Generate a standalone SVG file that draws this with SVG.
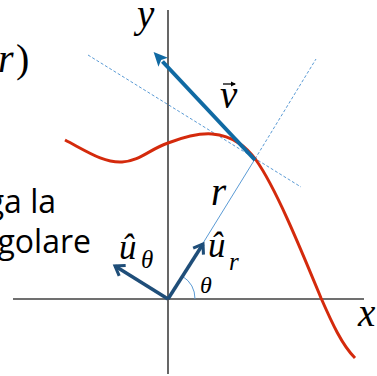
<svg xmlns="http://www.w3.org/2000/svg" width="377" height="376" viewBox="0 0 377 376">
  <style>
    .math { font-family: "Liberation Serif", "Times New Roman", serif; font-style: italic; fill: #000; }
    .up { font-style: normal; }
    .sans { font-family: "Open Sans", "Liberation Sans", sans-serif; fill: #000; font-size: 32px; }
    .axis { stroke: #404040; stroke-width: 1.6; fill: none; }
    .guide { stroke: #5b9bd5; stroke-width: 1; fill: none; }
    .dash { stroke-dasharray: 3 2; }
    .unit { stroke: #1f4e79; stroke-width: 3.5; fill: none; }
    .vel { stroke: #106aa3; stroke-width: 4; fill: none; }
  </style>
  <defs>
    <marker id="tri" markerUnits="userSpaceOnUse" markerWidth="14" markerHeight="14" refX="0" refY="0" viewBox="0 -7 14 14" orient="auto" overflow="visible">
      <path d="M-1,-6.5 L13,0 L-1,6.5 L2,0 z" fill="#106aa3"/>
    </marker>
    <marker id="chev" markerUnits="userSpaceOnUse" markerWidth="14" markerHeight="14" refX="0" refY="0" viewBox="-12 -8 14 16" orient="auto" overflow="visible">
      <path d="M-10,-7 L0,0 L-10,7" fill="none" stroke="#1f4e79" stroke-width="3.5" stroke-linejoin="miter"/>
    </marker>
    <marker id="smallarrow" markerUnits="userSpaceOnUse" markerWidth="6" markerHeight="6" refX="0" refY="0" viewBox="-5 -3 6 6" orient="auto" overflow="visible">
      <path d="M-4,-2.5 L1,0 L-4,2.5 z" fill="#000"/>
    </marker>
  </defs>
  <rect width="377" height="376" fill="#fff"/>

  <g id="axes">
    <line class="axis" x1="13" y1="299" x2="364" y2="299"/>
    <line class="axis" x1="168" y1="10" x2="168" y2="374"/>
  </g>

  <g id="connectors">
    <line class="guide dash" x1="88" y1="55" x2="301" y2="187"/>
    <line class="guide" x1="200" y1="248" x2="255" y2="159"/>
    <line class="guide dash" x1="255" y1="159" x2="316" y2="59"/>
    <path class="guide" d="M195,299 A27,27 0 0 0 182.5,276.3"/>
  </g>

  <g id="curve">
    <path d="M65,140 C88,152 104,163 122,162 C140,161 150,149 168,143 C184,137 198,133 212,134 C234,136 246,147 256,160 C276,188 302,252 321,298 C332,323 342,345 355,358" fill="none" stroke="#d42a0c" stroke-width="3"/>
  </g>

  <g id="vectors">
    <line class="vel" x1="255" y1="160" x2="162.5" y2="61.5" marker-end="url(#tri)"/>
    <line class="unit" x1="168" y1="299" x2="115" y2="266" marker-end="url(#chev)"/>
    <line class="unit" x1="168" y1="299" x2="203" y2="244" marker-end="url(#chev)"/>
  </g>

  <g id="labels">
    <text class="math" x="137" y="27" font-size="39">y</text>
    <text class="math" x="-2" y="72" font-size="40">r</text>
    <text class="math up" x="16" y="72" font-size="40">)</text>
    <text class="math" x="220" y="108" font-size="39">v</text>
    <line x1="223" y1="84" x2="235" y2="84" stroke="#000" stroke-width="1.3" marker-end="url(#smallarrow)"/>
    <text class="math" x="211" y="205" font-size="39">r</text>
    <text class="math" x="208" y="257" font-size="35">û</text>
    <text class="math" x="229" y="270" font-size="25">r</text>
    <text class="math" x="119" y="259" font-size="35">û</text>
    <text class="math" x="141" y="268" font-size="25">θ</text>
    <text class="math" x="200" y="293" font-size="24">θ</text>
    <text class="math" x="358" y="326" font-size="39">x</text>
    <text class="sans" x="56" y="213" text-anchor="end">ga la</text>
    <text class="sans" x="91" y="253" text-anchor="end">golare</text>
  </g>
</svg>
